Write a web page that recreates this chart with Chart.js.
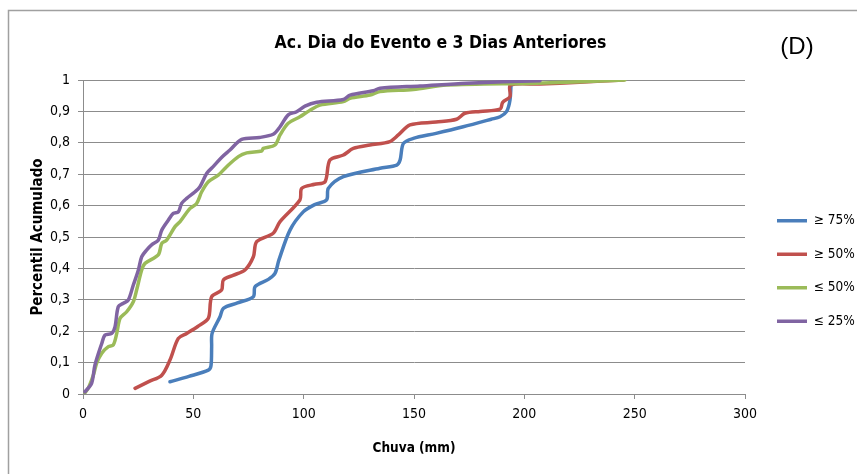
<!DOCTYPE html>
<html>
<head>
<meta charset="utf-8">
<script src="https://cdn.jsdelivr.net/npm/chart.js@4.4.0/dist/chart.umd.min.js"></script>
<style>
  html, body { margin: 0; padding: 0; background: #fff; }
</style>
</head>
<body>
<canvas id="cdfChart" width="857" height="474"></canvas>
<script>
// Series (x = chuva mm, y = percentil acumulado)
const seriesNames = ['≥ 75%', '≥ 50%', '≤ 50%', '≤ 25%'];
const seriesColors = ['#4a7ebb', '#c0504d', '#9bbb59', '#8064a2'];

const blueX = [39.4, 48, 56.8, 58, 58.3, 58.5, 62.1, 63.6, 70, 77.2, 78, 84, 87, 88.8, 93.8, 99.8, 105, 110.4, 111.2, 118, 134.6, 142.2, 143.7, 145.2, 149.7, 160, 172.3, 185, 189, 192, 193.5, 194];
const blueY = [0.039, 0.056, 0.076, 0.09, 0.15, 0.193, 0.246, 0.273, 0.29, 0.31, 0.342, 0.365, 0.384, 0.427, 0.522, 0.58, 0.603, 0.618, 0.655, 0.692, 0.719, 0.729, 0.745, 0.798, 0.814, 0.83, 0.851, 0.875, 0.883, 0.9, 0.936, 0.99];

const redX = [23.6, 30, 35.7, 39.4, 43.2, 47, 52, 56.8, 58.3, 62.8, 63.6, 68, 73.4, 77.2, 78.7, 86.2, 89.3, 98.3, 99.1, 105, 109.7, 111.9, 118, 122.5, 130, 139.1, 142.9, 148.2, 160, 169.3, 173.1, 180, 189, 190.2, 193.5, 193.7, 207, 225, 245];
const redY = [0.018, 0.04, 0.06, 0.108, 0.177, 0.193, 0.215, 0.241, 0.31, 0.331, 0.363, 0.378, 0.395, 0.437, 0.485, 0.512, 0.549, 0.618, 0.655, 0.668, 0.676, 0.745, 0.761, 0.782, 0.793, 0.804, 0.825, 0.857, 0.866, 0.875, 0.894, 0.9, 0.907, 0.929, 0.947, 0.984, 0.987, 0.993, 1.0];

const greenX = [0.9, 2.5, 4.7, 6.2, 8.5, 11.5, 13.7, 15.3, 16.8, 19.8, 22.8, 24.3, 26.6, 28.1, 34.1, 35.7, 37.9, 41.7, 44, 48.5, 51.5, 53.8, 56.8, 61.3, 65.1, 70.4, 74.2, 81, 81.7, 87, 89.3, 93, 98.3, 102.9, 107.4, 118, 121, 130.1, 134.6, 149.7, 164.8, 205.6, 245.6];
const greenY = [0.004, 0.02, 0.06, 0.098, 0.13, 0.151, 0.156, 0.193, 0.241, 0.262, 0.294, 0.331, 0.395, 0.416, 0.443, 0.48, 0.49, 0.533, 0.549, 0.591, 0.607, 0.644, 0.676, 0.697, 0.724, 0.756, 0.768, 0.774, 0.782, 0.793, 0.825, 0.862, 0.883, 0.904, 0.92, 0.931, 0.942, 0.952, 0.963, 0.97, 0.984, 0.99, 1.0];

const purpleX = [0.9, 3.9, 5.4, 8.5, 10, 13, 14.5, 16, 18.3, 20.5, 22.8, 25.1, 26.6, 28.9, 31.1, 34.1, 35.7, 38.7, 40.9, 43.2, 44.7, 47, 50.8, 53, 56.1, 59, 62.9, 66.6, 71.9, 80, 86.2, 89.3, 93, 96.8, 100.6, 105.9, 118, 121, 131.6, 134.6, 152.7, 173.9, 207.1];
const purpleY = [0.007, 0.034, 0.092, 0.161, 0.188, 0.193, 0.214, 0.278, 0.289, 0.299, 0.347, 0.395, 0.437, 0.459, 0.475, 0.49, 0.522, 0.554, 0.575, 0.58, 0.607, 0.623, 0.644, 0.66, 0.703, 0.724, 0.754, 0.777, 0.811, 0.817, 0.827, 0.851, 0.889, 0.899, 0.917, 0.929, 0.938, 0.952, 0.966, 0.974, 0.981, 0.99, 0.998];

const xTicks = [0, 50, 100, 150, 200, 250, 300];
const yTicks = [0, 0.1, 0.2, 0.3, 0.4, 0.5, 0.6, 0.7, 0.8, 0.9, 1];

const narrow = "'Liberation Sans Narrow', 'DejaVu Sans Condensed', sans-serif";
const gridGray = '#8c8c8c';

function toPoints(xs, ys) {
  return xs.map((x, i) => ({ x: x, y: ys[i] }));
}

function makeSeries(i, xs, ys) {
  return {
    label: seriesNames[i],
    data: toPoints(xs, ys),
    borderColor: seriesColors[i],
    backgroundColor: seriesColors[i],
    borderWidth: 3.5,
    borderCapStyle: 'round',
    borderJoinStyle: 'round',
    pointRadius: 0,
    showLine: true,
    tension: 0.3,
    order: 4 - i
  };
}

// outer frame and the "(D)" panel tag
const framePlugin = {
  id: 'frame',
  beforeDraw(chart) {
    const ctx = chart.ctx;
    ctx.save();
    ctx.strokeStyle = '#a0a0a0';
    ctx.lineWidth = 1.5;
    ctx.strokeRect(8.5, 10.5, 900, 500);
    ctx.restore();
  },
  afterDraw(chart) {
    const ctx = chart.ctx;
    ctx.save();
    ctx.fillStyle = '#000';
    ctx.font = "24px 'Liberation Sans', sans-serif";
    ctx.textAlign = 'center';
    ctx.textBaseline = 'middle';
    ctx.fillText('(D)', 797, 47);
    ctx.restore();
  }
};

// keep the legend column the same width and spot as in the original
const legendPlugin = {
  id: 'legendWidth',
  afterInit(chart) {
    const legend = chart.legend;
    const fit = legend.fit;
    legend.fit = function () {
      fit.call(this);
      this.width = 112;
    };
  },
  afterLayout(chart) {
    const legend = chart.legend;
    legend.left += 12;
    legend.top += 34;
    legend.bottom += 34;
  }
};

new Chart(document.getElementById('cdfChart'), {
  type: 'scatter',
  data: {
    datasets: [
      makeSeries(0, blueX, blueY),
      makeSeries(1, redX, redY),
      makeSeries(2, greenX, greenY),
      makeSeries(3, purpleX, purpleY)
    ]
  },
  options: {
    responsive: false,
    animation: false,
    layout: { padding: { left: 24, right: 0, top: 0, bottom: 0 } },
    plugins: {
      title: {
        display: true,
        text: 'Ac. Dia do Evento e 3 Dias Anteriores',
        color: '#000',
        font: { family: narrow, size: 17.5, weight: 'bold' },
        padding: { top: 33, bottom: 26 }
      },
      legend: {
        position: 'right',
        labels: {
          color: '#000',
          font: { family: narrow, size: 13.5 },
          usePointStyle: true,
          pointStyle: 'line',
          pointStyleWidth: 30,
          padding: 20,
          sort: (a, b) => a.datasetIndex - b.datasetIndex
        }
      },
      tooltip: { enabled: false }
    },
    scales: {
      x: {
        type: 'linear',
        min: 0,
        max: 300,
        afterBuildTicks: scale => { scale.ticks = xTicks.map(v => ({ value: v })); },
        afterFit: scale => { scale.height = 80; },
        grid: { drawOnChartArea: false, color: gridGray, tickLength: 5 },
        border: { color: gridGray },
        ticks: { color: '#000', font: { family: narrow, size: 14 }, padding: 7, maxRotation: 0 },
        title: {
          display: true,
          text: 'Chuva (mm)',
          color: '#000',
          font: { family: narrow, size: 13.5, weight: 'bold' },
          padding: { top: 0, bottom: 17 }
        }
      },
      y: {
        type: 'linear',
        min: 0,
        max: 1,
        afterBuildTicks: scale => { scale.ticks = yTicks.map(v => ({ value: v })); },
        afterFit: scale => { scale.width = 59; },
        grid: { color: gridGray, tickLength: 5 },
        border: { color: gridGray },
        ticks: {
          color: '#000',
          font: { family: narrow, size: 14 },
          padding: 8,
          callback: v => (v === 0 || v === 1) ? String(v) : v.toFixed(1).replace('.', ',')
        },
        title: {
          display: true,
          text: 'Percentil Acumulado',
          color: '#000',
          font: { family: narrow, size: 15, weight: 'bold' },
          padding: { top: 5, bottom: 0 }
        }
      }
    }
  },
  plugins: [framePlugin, legendPlugin]
});
</script>
</body>
</html>
